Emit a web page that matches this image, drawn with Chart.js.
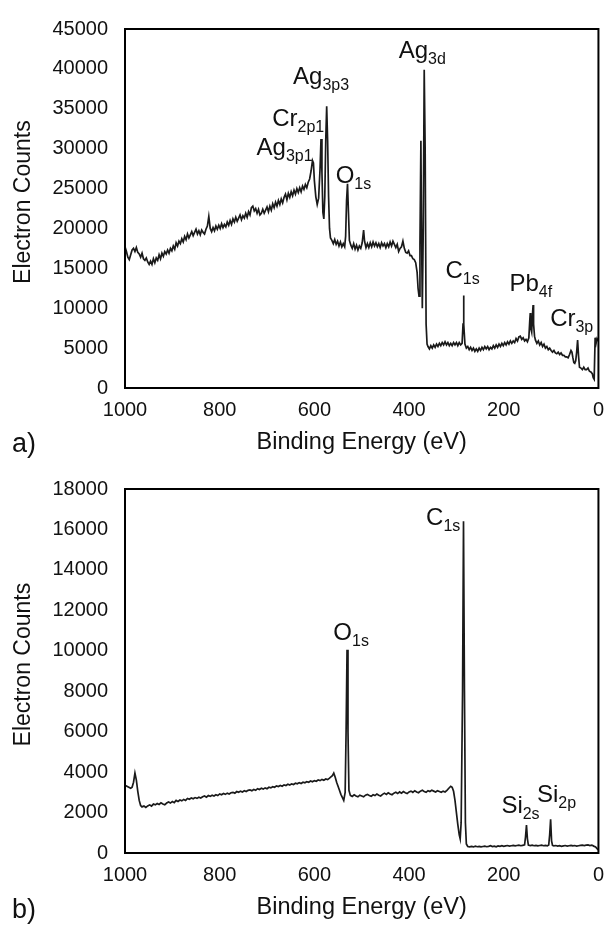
<!DOCTYPE html>
<html>
<head>
<meta charset="utf-8">
<script src="https://cdn.jsdelivr.net/npm/chart.js@4.4.1/dist/chart.umd.min.js"></script>
<style>
    body { margin: 0; background: #fff; }
    #painelA { position: absolute; left: 0; top: 0; }
    #painelB { position: absolute; left: 0; top: 460px; }
</style>
</head>
<body>
<canvas id="painelA" width="614" height="460"></canvas>
<canvas id="painelB" width="614" height="465"></canvas>
<script>
// ---- panel a) : binding energy (eV) and counts ----
const energyA = [
    1000, 997, 994, 991, 988, 985, 982, 979, 976, 973,
    970, 967, 964, 961, 958, 955, 952, 949, 946, 943,
    940, 937, 934, 931, 928, 925, 922, 919, 916, 913,
    910, 907, 904, 901, 898, 895, 892, 889, 886, 883,
    880, 877, 874, 871, 868, 865, 862, 859, 856, 853,
    850, 847, 844, 841, 838, 835, 832, 829, 826, 823,
    820, 817, 814, 811, 808, 805, 802, 799, 796, 793,
    790, 787, 784, 781, 778, 775, 772, 769, 766, 763,
    760, 757, 754, 751, 748, 745, 742, 739, 736, 733,
    730, 727, 724, 721, 718, 715, 712, 709, 706, 703,
    700, 697, 694, 691, 688, 685, 682, 679, 676, 673,
    670, 667, 664, 661, 658, 655, 652, 649, 646, 643,
    640, 637, 634, 631, 628, 625, 622, 619, 616, 613,
    610, 607, 604, 602, 600, 597, 594, 591, 588, 586,
    584, 582, 580, 578, 576, 574, 572, 570, 568, 566,
    563, 560, 557, 554, 551, 548, 545, 542, 539, 536,
    534, 532, 530, 528, 526, 523, 520, 517, 514, 511,
    508, 505, 502, 499, 496, 494, 491, 488, 485, 482,
    479, 476, 473, 470, 467, 464, 461, 458, 455, 452,
    449, 446, 443, 440, 437, 434, 431, 428, 425, 422,
    419, 416, 413, 410, 407, 404, 401, 398, 395, 392,
    389, 386, 383, 381, 379, 377, 375, 374, 372, 370,
    368, 366, 364, 362, 360, 357, 354, 351, 348, 345,
    342, 339, 336, 333, 330, 327, 324, 321, 318, 315,
    312, 309, 306, 303, 300, 297, 294, 291, 288, 286,
    285, 284, 282, 279, 276, 273, 270, 267, 264, 261,
    258, 255, 252, 249, 246, 243, 240, 237, 234, 231,
    228, 225, 222, 219, 216, 213, 210, 207, 204, 201,
    198, 195, 192, 189, 186, 183, 180, 177, 174, 171,
    168, 165, 162, 159, 156, 153, 150, 147, 145, 144,
    143, 141, 139, 138, 137, 135, 133, 130, 127, 124,
    121, 118, 115, 112, 109, 106, 103, 100, 97, 94,
    91, 88, 85, 82, 79, 76, 73, 70, 67, 64,
    61, 58, 56, 54, 52, 50, 48, 46, 44, 42,
    40, 37, 34, 31, 28, 25, 22, 19, 16, 13,
    11, 9, 7, 5, 3, 1
];
const countsA = [
    17700, 17100, 16400, 16100, 16700, 17300, 17500, 17100, 17600, 17000,
    16800, 16400, 16900, 16200, 16000, 16300, 15800, 15500, 15900, 15500,
    16200, 15700, 16300, 16000, 16700, 16200, 16900, 16500, 17100, 16800,
    17300, 16900, 17500, 17200, 17800, 17400, 18200, 17800, 18400, 18100,
    18700, 18300, 19000, 18600, 19300, 18800, 19200, 19600, 19100, 19500,
    19900, 19300, 19700, 19200, 19800, 19500, 19300, 19900, 20300, 21500,
    20000, 19600, 20100, 19700, 20300, 19900, 20400, 20000, 20600, 20100,
    20500, 20200, 20800, 20400, 21000, 20500, 21200, 20800, 21400, 20900,
    21300, 21700, 21100, 21600, 21300, 21900, 21400, 22100, 21700, 22600,
    22800, 22200, 22500, 21900, 22400, 21700, 21900, 22400, 21900, 22300,
    22700, 22100, 22800, 22300, 23100, 22600, 23300, 22800, 23500, 23000,
    23700, 23200, 23900, 24300, 23600, 24400, 23900, 24600, 24100, 24800,
    24300, 25000, 24500, 25100, 24600, 25300, 24900, 25500, 25100, 25800,
    26200, 27200, 28500, 28200, 26000, 24000, 23000, 23800, 27500, 31200,
    27000, 22000, 21200, 24000, 31000, 35300, 31000, 24000, 20000, 18800,
    18500, 18100, 18600, 18000, 18400, 17800, 18300, 17700, 18100, 17700,
    19000, 23500, 25600, 22000, 18500, 17900, 17500, 18100, 17400, 17900,
    17300, 17800, 17500, 18200, 19800, 18400, 17600, 18100, 17600, 18200,
    17700, 18300, 17800, 18200, 17700, 18100, 17600, 18200, 17800, 18100,
    17600, 18100, 17700, 18300, 17800, 18400, 18000, 17600, 18000, 17100,
    17500, 17700, 18400, 17500, 17000, 16900, 17200, 16600, 16600, 16200,
    16100, 15700, 14500, 12500, 11500, 18000, 31000, 22000, 10000, 20000,
    39900, 30000, 8000, 5500, 5200, 4900, 5300, 5000, 5400, 5100,
    5500, 5200, 5600, 5300, 5700, 5400, 5800, 5400, 5700, 5300,
    5600, 5300, 5700, 5400, 5700, 5300, 5700, 5400, 5600, 8000,
    11600, 8000, 5500, 5000, 5200, 4800, 5100, 4700, 5000, 4600,
    4900, 4600, 5000, 4700, 5100, 4800, 5200, 4900, 5200, 4800,
    5100, 4900, 5300, 5000, 5400, 5100, 5500, 5200, 5600, 5300,
    5700, 5400, 5800, 5500, 5900, 5600, 5900, 5700, 6200, 5900,
    6400, 6500, 6100, 6300, 5900, 6100, 5800, 6300, 8500, 9400,
    7500, 7000, 9500, 10400, 8000, 6500, 6000, 5600, 5900, 5400,
    5700, 5200, 5500, 5000, 5200, 4800, 5000, 4700, 4500, 4700,
    4400, 4300, 4500, 4200, 4400, 4100, 4100, 3900, 3900, 3800,
    4200, 4700, 4500, 3800, 3200, 3100, 3400, 4500, 6000, 4000,
    2600, 2500, 2300, 2600, 2300, 2300, 2500, 2100, 2000, 1800,
    1300, 1100, 6300, 5600, 6200, 6000
];
const yTicksA = [0, 45000, 5000];   // min, max, step

// peak labels of panel a) : element, orbital subscript, anchor (eV, counts)
const peakNamesA = ['Ag', 'Ag', 'Cr', 'Ag', 'O', 'C', 'Pb', 'Cr'];
const peakSubsA = ['3d', '3p3', '2p1', '3p1', '1s', '1s', '4f', '3p'];
const peakEnergyA = [422, 645, 689, 722, 555, 323, 188, 102];
const peakCountA = [41400, 38100, 32900, 29200, 25700, 13800, 12100, 7800];

// ---- panel b) ----
const energyB = [
    1000, 996, 992, 988, 985, 982, 979, 976, 973, 970,
    967, 964, 960, 956, 952, 948, 944, 940, 936, 932,
    928, 924, 920, 916, 912, 908, 904, 900, 896, 892,
    888, 884, 880, 876, 872, 868, 864, 860, 856, 852,
    848, 844, 840, 836, 832, 828, 824, 820, 816, 812,
    808, 804, 800, 796, 792, 788, 784, 780, 776, 772,
    768, 764, 760, 756, 752, 748, 744, 740, 736, 732,
    728, 724, 720, 716, 712, 708, 704, 700, 696, 692,
    688, 684, 680, 676, 672, 668, 664, 660, 656, 652,
    648, 644, 640, 636, 632, 628, 624, 620, 616, 612,
    608, 604, 600, 596, 592, 588, 584, 580, 576, 572,
    568, 565, 562, 559, 556, 553, 550, 547, 544, 541,
    538, 535, 533, 531, 529, 527, 524, 520, 516, 512,
    508, 504, 500, 496, 492, 488, 484, 480, 476, 472,
    468, 464, 460, 456, 452, 448, 444, 440, 436, 432,
    428, 424, 420, 416, 412, 408, 404, 400, 396, 392,
    388, 384, 380, 376, 372, 368, 364, 360, 356, 352,
    348, 344, 340, 336, 332, 328, 324, 320, 316, 312,
    309, 306, 303, 300, 297, 294, 292, 290, 287, 285,
    283, 281, 279, 276, 272, 268, 264, 260, 256, 252,
    248, 244, 240, 236, 232, 228, 224, 220, 216, 212,
    208, 204, 200, 196, 192, 188, 184, 180, 176, 172,
    168, 164, 160, 156, 154, 152, 150, 148, 144, 140,
    136, 132, 128, 124, 120, 116, 112, 108, 105, 103,
    101, 99, 97, 94, 90, 86, 82, 78, 74, 70,
    66, 62, 58, 54, 50, 46, 42, 38, 34, 30,
    26, 22, 18, 14, 10, 6, 3, 0
];
const countsB = [
    3350, 3300, 3250, 3200, 3250, 3500, 3950, 3600, 3050, 2600,
    2350, 2280, 2320, 2250, 2330, 2380, 2320, 2420, 2380, 2450,
    2400, 2480, 2420, 2380, 2470, 2520, 2470, 2550, 2490, 2600,
    2550, 2620, 2580, 2650, 2600, 2700, 2660, 2720, 2680, 2740,
    2700, 2760, 2720, 2780, 2820, 2760, 2840, 2800, 2860, 2820,
    2880, 2840, 2920, 2880, 2940, 2900, 2960, 2920, 2980, 3000,
    2960, 3040, 3000, 3060, 3020, 3080, 3040, 3100, 3120, 3080,
    3140, 3100, 3180, 3140, 3200, 3160, 3220, 3180, 3250, 3220,
    3280, 3250, 3320, 3290, 3340, 3300, 3370, 3340, 3400, 3360,
    3420, 3390, 3450, 3420, 3480, 3440, 3500, 3470, 3530, 3500,
    3560, 3520, 3580, 3550, 3610, 3580, 3640, 3600, 3660, 3630,
    3700, 3760, 3820, 3950, 3750, 3500, 3300, 3100, 2900, 2750,
    2600, 3000, 6000, 10050, 6000, 3100, 2850, 2800, 2880, 2820,
    2780, 2860, 2820, 2780, 2860, 2900, 2840, 2800, 2880, 2840,
    2920, 2860, 2820, 2900, 2960, 2900, 2980, 2920, 2880, 2960,
    3000, 2940, 3020, 2960, 3040, 2980, 2940, 3020, 3060, 3000,
    3080, 3020, 2980, 3060, 3100, 3040, 3000, 3080, 3040, 3100,
    3060, 3020, 3080, 3040, 3000, 3060, 3020, 3100, 3200, 3300,
    3250, 3050, 2600, 2000, 1400, 900, 700, 1500, 8000, 16400,
    8000, 1500, 450, 320, 300, 330, 300, 340, 310, 330,
    300, 320, 340, 310, 330, 360, 320, 340, 310, 350,
    330, 360, 330, 350, 370, 340, 360, 380, 350, 370,
    390, 360, 380, 400, 800, 1380, 700, 390, 370, 390,
    360, 380, 350, 370, 390, 360, 380, 350, 400, 900,
    1670, 600, 380, 350, 370, 340, 360, 330, 350, 370,
    340, 360, 380, 350, 370, 340, 360, 380, 390, 370,
    390, 400, 370, 390, 340, 300, 220, 150
];
const yTicksB = [0, 18000, 2000];

const peakNamesB = ['C', 'O', 'Si', 'Si'];
const peakSubsB = ['1s', '1s', '2s', '2p'];
const peakEnergyB = [364, 560, 205, 130];
const peakCountB = [16220, 10530, 1960, 2540];

const xTicks = [0, 1000, 200];

const fonte = '"Liberation Sans", Arial, sans-serif';
const corTexto = '#111';

// frame around the plot, peak names with subscripts, panel letter
const moldura = {
    id: 'moldura',
    afterDatasetsDraw(chart, args, opts) {
        const ctx = chart.ctx;
        const area = chart.chartArea;
        const xs = chart.scales.x;
        const ys = chart.scales.y;
        ctx.save();
        ctx.strokeStyle = '#000';
        ctx.lineWidth = 2;
        ctx.strokeRect(area.left, area.top, area.right - area.left, area.bottom - area.top);

        ctx.fillStyle = corTexto;
        ctx.textAlign = 'left';
        ctx.textBaseline = 'alphabetic';
        for (let i = 0; i < opts.nomes.length; i++) {
            const px = xs.getPixelForValue(opts.energia[i]);
            const py = ys.getPixelForValue(opts.contagem[i]);
            ctx.font = '24px ' + fonte;
            ctx.fillText(opts.nomes[i], px, py);
            const w = ctx.measureText(opts.nomes[i]).width;
            ctx.font = '16px ' + fonte;
            ctx.fillText(opts.subs[i], px + w, py + 6);
        }

        ctx.font = '27px ' + fonte;
        ctx.fillText(opts.letra, 12, opts.letraY);
        ctx.restore();
    }
};

function montarPontos(energia, contagem) {
    const pontos = [];
    for (let i = 0; i < energia.length; i++) {
        pontos.push({ x: energia[i], y: contagem[i] });
    }
    return pontos;
}

function criarGrafico(canvasId, energia, contagem, yTicks, topo, rotulos) {
    return new Chart(document.getElementById(canvasId), {
        type: 'line',
        data: {
            datasets: [{
                data: montarPontos(energia, contagem),
                borderColor: '#1a1a1a',
                borderWidth: 1.7,
                pointRadius: 0,
                fill: false,
                tension: 0
            }]
        },
        options: {
            responsive: false,
            animation: false,
            layout: { padding: { top: topo, right: 10, left: 0, bottom: 0 } },
            plugins: {
                legend: { display: false },
                tooltip: { enabled: false },
                moldura: rotulos
            },
            scales: {
                x: {
                    type: 'linear',
                    reverse: true,
                    min: xTicks[0],
                    max: xTicks[1],
                    ticks: {
                        stepSize: xTicks[2],
                        padding: 10,
                        maxRotation: 0,
                        color: corTexto,
                        font: { size: 20, family: fonte },
                        callback: v => String(v)
                    },
                    grid: { display: false, drawTicks: false },
                    border: { display: false },
                    title: {
                        display: true,
                        text: 'Binding Energy (eV)',
                        color: corTexto,
                        font: { size: 23.5, family: fonte, lineHeight: 1.2 },
                        padding: { top: 0, bottom: 3 }
                    },
                    afterFit: function (scale) { scale.height = 72; }
                },
                y: {
                    min: yTicks[0],
                    max: yTicks[1],
                    ticks: {
                        stepSize: yTicks[2],
                        padding: 17,
                        color: corTexto,
                        font: { size: 20, family: fonte },
                        callback: v => String(v)
                    },
                    grid: { display: false, drawTicks: false },
                    border: { display: false },
                    title: {
                        display: true,
                        // two leading spaces lift the text a little, as in the original
                        text: '  Electron Counts',
                        color: corTexto,
                        font: { size: 23, family: fonte, lineHeight: 1.2 },
                        padding: { top: 10, bottom: 0 }
                    },
                    afterFit: function (scale) { scale.width = 125; }
                }
            }
        },
        plugins: [moldura]
    });
}

criarGrafico('painelA', energyA, countsA, yTicksA, 24, {
    nomes: peakNamesA, subs: peakSubsA, energia: peakEnergyA, contagem: peakCountA,
    letra: 'a)', letraY: 452
});
criarGrafico('painelB', energyB, countsB, yTicksB, 29, {
    nomes: peakNamesB, subs: peakSubsB, energia: peakEnergyB, contagem: peakCountB,
    letra: 'b)', letraY: 458
});
</script>
</body>
</html>
